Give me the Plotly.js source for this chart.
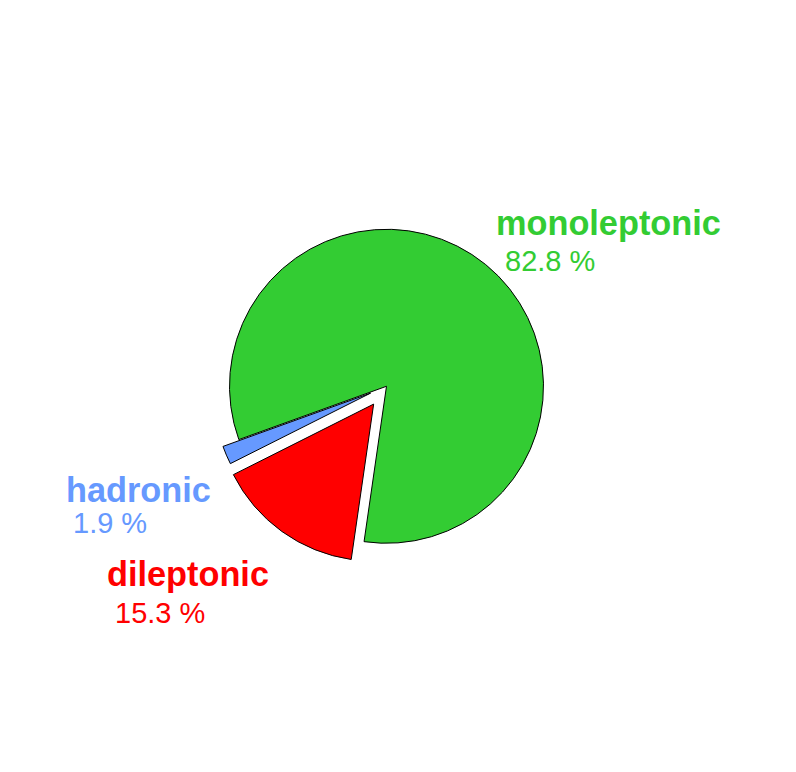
<!DOCTYPE html>
<html>
<head>
<meta charset="utf-8">
<script src="https://cdn.plot.ly/plotly-3.0.1.min.js"></script>
<style>html,body{margin:0;padding:0;background:#fff;}#chart{width:796px;height:772px;}</style>
</head>
<body>
<div id="chart"></div>
<script>
// Data
const categories = ["hadronic", "dileptonic", "monoleptonic"];
const percentValues = [1.9, 15.3, 82.8];
const percentLabels = ["1.9 %", "15.3 %", "82.8 %"];
const sliceColors = ["#6699ff", "#ff0000", "#33cc33"];
const slicePull = [0.11, 0.14, 0];

// label placement (paper coords)
const namePos = [[0.0804, 0.3922], [0.1319, 0.2834], [0.6212, 0.7377]];
const valuePos = [[0.0898, 0.3465], [0.142, 0.2292], [0.6319, 0.6855]];

const annotations = [];
categories.forEach((c, i) => {
  annotations.push({
    xref: "paper", yref: "paper", x: namePos[i][0], y: namePos[i][1],
    xanchor: "left", yanchor: "top", showarrow: false,
    text: "<b>" + c + "</b>",
    font: {family: "Liberation Sans, Arial, sans-serif", size: 34.3, color: sliceColors[i]}
  });
  annotations.push({
    xref: "paper", yref: "paper", x: valuePos[i][0], y: valuePos[i][1],
    xanchor: "left", yanchor: "top", showarrow: false,
    text: percentLabels[i],
    font: {family: "Liberation Sans, Arial, sans-serif", size: 29, color: sliceColors[i]}
  });
});

const trace = {
  type: "pie",
  labels: categories,
  values: percentValues,
  sort: false,
  direction: "counterclockwise",
  rotation: 243.3,
  pull: slicePull,
  marker: {colors: sliceColors, line: {color: "#000000", width: 1}},
  textinfo: "none",
  hoverinfo: "skip",
  domain: {x: [0.2607, 0.7104], y: [0.2678, 0.7315]}
};

const layout = {
  width: 796, height: 772,
  margin: {l: 0, r: 0, t: 0, b: 0},
  paper_bgcolor: "#ffffff",
  showlegend: false,
  annotations: annotations
};

Plotly.newPlot("chart", [trace], layout, {displayModeBar: false, staticPlot: true});
</script>
</body>
</html>
